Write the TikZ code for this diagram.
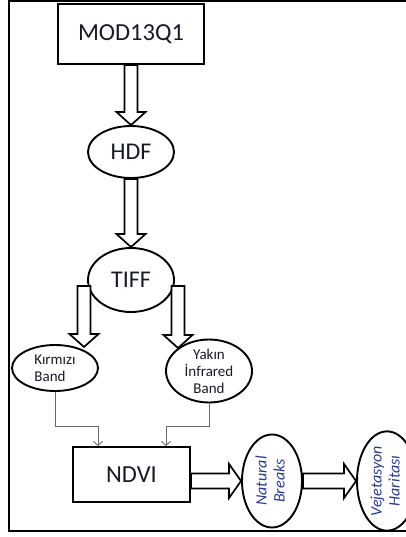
\documentclass[tikz,border=0pt]{standalone}
\usepackage{fontspec}
\setmainfont{Carlito}
\usepackage{graphicx}
\usetikzlibrary{shapes.geometric,arrows.meta,calc}

\definecolor{labelink}{RGB}{25,25,40}
\definecolor{italink}{RGB}{40,60,140}
\definecolor{wiregray}{RGB}{105,105,105}

\tikzset{
  procbox/.style={draw, line width=1.9pt, rectangle, inner sep=0pt, text=labelink, font=\fontsize{24.5}{28}\selectfont},
  dataell/.style={draw, line width=1.9pt, ellipse, inner sep=0pt, text=labelink, font=\fontsize{24}{28}\selectfont},
  bandell/.style={dataell, align=center, font=\fontsize{15}{17}\selectfont},
  rotell/.style={dataell, text=italink, font=\fontsize{16}{18}\selectfont\itshape},
  fatarrow/.style={draw, line width=1.7pt, fill=white, line join=miter},
  thinarrow/.style={draw=wiregray, line width=0.9pt, -{Straight Barb[length=4pt,width=9pt]}},
}

% hollow block arrows
\newcommand{\fatdown}[2]{%
  \path[fatarrow] let \p1=(#1), \p2=(#2) in
    (\x1-6.5pt,\y1) -- (\x1-6.5pt,\y2+13pt) -- (\x1-14.5pt,\y2+13pt) -- (\x1,\y2)
    -- (\x1+14.5pt,\y2+13pt) -- (\x1+6.5pt,\y2+13pt) -- (\x1+6.5pt,\y1) -- cycle;}
\newcommand{\fatright}[2]{%
  \path[fatarrow] let \p1=(#1), \p2=(#2) in
    (\x1,\y2+7.5pt) -- (\x2-12pt,\y2+7.5pt) -- (\x2-12pt,\y2+17pt) -- (\x2,\y2)
    -- (\x2-12pt,\y2-17pt) -- (\x2-12pt,\y2-7.5pt) -- (\x1,\y2-7.5pt) -- cycle;}

\begin{document}
\begin{tikzpicture}[x=1pt, y=-1pt]
  \useasboundingbox (0,0) rectangle (405,537);
  \draw[line width=2pt] (420,1.5) -- (9,1.5) -- (9,531) -- (420,531);

  % nodes
  \node[procbox, minimum width=146pt, minimum height=60pt] (mod) at (131,34) {MOD13Q1};
  \node[dataell, minimum width=86pt, minimum height=52pt] (hdf) at (131,152) {HDF};
  \node[dataell, minimum width=86pt, minimum height=64pt] (tiff) at (131,280) {TIFF};
  \node[bandell, minimum width=86pt, minimum height=46pt, align=left] (kirmizi) at (55,368) {Kırmızı\\Band};
  \node[bandell, minimum width=86pt, minimum height=62pt] (yakin) at (209,371) {Yakın\\İnfrared\\Band};
  \node[procbox, minimum width=117pt, minimum height=55pt] (ndvi) at (131.5,474.5) {NDVI};
  \node[rotell, minimum width=60pt, minimum height=93pt] (natural) at (272,481)
    {\rotatebox{90}{\begin{tabular}{@{}c@{}}Natural\\Breaks\end{tabular}}};
  \node[rotell, minimum width=60pt, minimum height=89pt] (vejetasyon) at (387,481)
    {\rotatebox{90}{\begin{tabular}{@{}c@{}}Vejetasyon\\Haritası\end{tabular}}};

  \coordinate (ksrc) at (84,286);
  \coordinate (ktip) at (84,347);
  \coordinate (ysrc) at (178,286);
  \coordinate (ytip) at (178,348);

  % block arrows
  \fatdown{mod.south}{hdf.north}
  \fatdown{hdf.south}{tiff.north}
  \fatdown{ksrc}{ktip}
  \fatdown{ysrc}{ytip}
  \fatright{ndvi.east}{natural.west}
  \fatright{natural.east}{vejetasyon.west}

  % band inputs
  \draw[thinarrow] (kirmizi.south) -- ++(0,34) -| ([xshift=-33.5pt]ndvi.north);
  \draw[thinarrow] (yakin.south) -- ++(0,23) -| ([xshift=34.5pt]ndvi.north);
\end{tikzpicture}
\end{document}
